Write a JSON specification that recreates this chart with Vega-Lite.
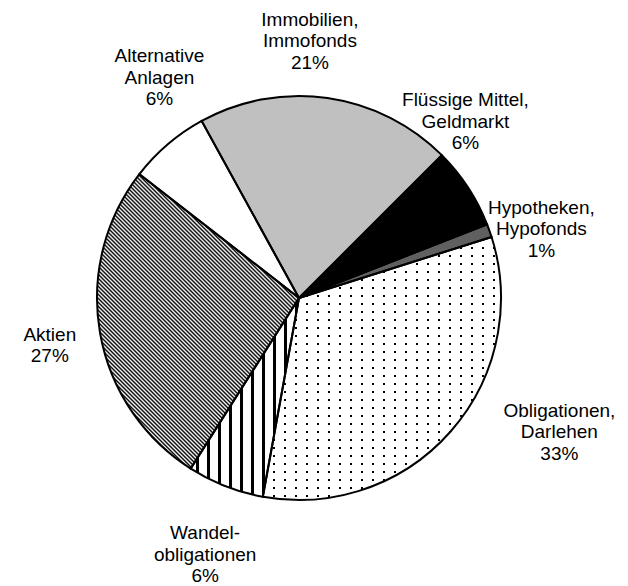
{
  "$schema": "https://vega.github.io/schema/vega-lite/v6.json",
  "autosize": "none",
  "padding": {"left": 0, "top": 10, "right": 30, "bottom": 0},
  "width": 598,
  "height": 576,
  "background": "white",
  "data": {
    "values": [
      {"k": "Immobilien", "label": "Immobilien,\nImmofonds\n21%", "v": 20.5, "o": 1},
      {"k": "Flüssige Mittel", "label": "Flüssige Mittel,\nGeldmarkt\n6%", "v": 6.56, "o": 2},
      {"k": "Hypotheken", "label": "Hypotheken,\nHypofonds\n1%", "v": 1.06, "o": 3},
      {"k": "Obligationen", "label": "Obligationen,\nDarlehen\n33%", "v": 32.75, "o": 4},
      {"k": "Wandelobligationen", "label": "Wandel-\nobligationen\n6%", "v": 6.14, "o": 5},
      {"k": "Aktien", "label": "Aktien\n27%", "v": 26.5, "o": 6},
      {"k": "Alternative Anlagen", "label": "Alternative\nAnlagen\n6%", "v": 6.5, "o": 7}
    ]
  },
  "encoding": {
    "theta": {"field": "v", "type": "quantitative", "stack": true, "scale": {"range": [-0.50265, 5.78053]}},
    "order": {"field": "o", "type": "quantitative"}
  },
  "layer": [
    {
      "mark": {"type": "arc", "radius": 202, "strokeWidth": 0},
      "encoding": {
        "fill": {
          "condition": [
            {"test": "datum.k === 'Immobilien'", "value": "#c0c0c0"},
            {"test": "datum.k === 'Flüssige Mittel'", "value": "#000000"},
            {"test": "datum.k === 'Hypotheken'", "value": "#606060"},
            {"test": "datum.k === 'Aktien'", "value": {
              "gradient": "linear", "x1": 1, "y1": 0, "x2": 0.2134, "y2": 1.1464,
              "stops": [
                {"offset": 0.00202, "color": "#000"}, {"offset": 0.00604, "color": "#fff"},
                {"offset": 0.01007, "color": "#000"}, {"offset": 0.0141, "color": "#fff"},
                {"offset": 0.01813, "color": "#000"}, {"offset": 0.02216, "color": "#fff"},
                {"offset": 0.02619, "color": "#000"}, {"offset": 0.03022, "color": "#fff"},
                {"offset": 0.03425, "color": "#000"}, {"offset": 0.03827, "color": "#fff"},
                {"offset": 0.0423, "color": "#000"}, {"offset": 0.04633, "color": "#fff"},
                {"offset": 0.05036, "color": "#000"}, {"offset": 0.05439, "color": "#fff"},
                {"offset": 0.05842, "color": "#000"}, {"offset": 0.06245, "color": "#fff"},
                {"offset": 0.06648, "color": "#000"}, {"offset": 0.0705, "color": "#fff"},
                {"offset": 0.07453, "color": "#000"}, {"offset": 0.07856, "color": "#fff"},
                {"offset": 0.08259, "color": "#000"}, {"offset": 0.08662, "color": "#fff"},
                {"offset": 0.09065, "color": "#000"}, {"offset": 0.09468, "color": "#fff"},
                {"offset": 0.09871, "color": "#000"}, {"offset": 0.10273, "color": "#fff"},
                {"offset": 0.10676, "color": "#000"}, {"offset": 0.11079, "color": "#fff"},
                {"offset": 0.11482, "color": "#000"}, {"offset": 0.11885, "color": "#fff"},
                {"offset": 0.12288, "color": "#000"}, {"offset": 0.12691, "color": "#fff"},
                {"offset": 0.13094, "color": "#000"}, {"offset": 0.13496, "color": "#fff"},
                {"offset": 0.13899, "color": "#000"}, {"offset": 0.14302, "color": "#fff"},
                {"offset": 0.14705, "color": "#000"}, {"offset": 0.15108, "color": "#fff"},
                {"offset": 0.15511, "color": "#000"}, {"offset": 0.15914, "color": "#fff"},
                {"offset": 0.16317, "color": "#000"}, {"offset": 0.16719, "color": "#fff"},
                {"offset": 0.17122, "color": "#000"}, {"offset": 0.17525, "color": "#fff"},
                {"offset": 0.17928, "color": "#000"}, {"offset": 0.18331, "color": "#fff"},
                {"offset": 0.18734, "color": "#000"}, {"offset": 0.19137, "color": "#fff"},
                {"offset": 0.1954, "color": "#000"}, {"offset": 0.19942, "color": "#fff"},
                {"offset": 0.20346, "color": "#000"}, {"offset": 0.20748, "color": "#fff"},
                {"offset": 0.21152, "color": "#000"}, {"offset": 0.21554, "color": "#fff"},
                {"offset": 0.21958, "color": "#000"}, {"offset": 0.2236, "color": "#fff"},
                {"offset": 0.22764, "color": "#000"}, {"offset": 0.23166, "color": "#fff"},
                {"offset": 0.23569, "color": "#000"}, {"offset": 0.23972, "color": "#fff"},
                {"offset": 0.24375, "color": "#000"}, {"offset": 0.24778, "color": "#fff"},
                {"offset": 0.25181, "color": "#000"}, {"offset": 0.25584, "color": "#fff"},
                {"offset": 0.25987, "color": "#000"}, {"offset": 0.2639, "color": "#fff"},
                {"offset": 0.26793, "color": "#000"}, {"offset": 0.27196, "color": "#fff"},
                {"offset": 0.27599, "color": "#000"}, {"offset": 0.28001, "color": "#fff"},
                {"offset": 0.28405, "color": "#000"}, {"offset": 0.28807, "color": "#fff"},
                {"offset": 0.2921, "color": "#000"}, {"offset": 0.29613, "color": "#fff"},
                {"offset": 0.30016, "color": "#000"}, {"offset": 0.30419, "color": "#fff"},
                {"offset": 0.30822, "color": "#000"}, {"offset": 0.31225, "color": "#fff"},
                {"offset": 0.31628, "color": "#000"}, {"offset": 0.3203, "color": "#fff"},
                {"offset": 0.32434, "color": "#000"}, {"offset": 0.32836, "color": "#fff"},
                {"offset": 0.33239, "color": "#000"}, {"offset": 0.33642, "color": "#fff"},
                {"offset": 0.34045, "color": "#000"}, {"offset": 0.34448, "color": "#fff"},
                {"offset": 0.34851, "color": "#000"}, {"offset": 0.35254, "color": "#fff"},
                {"offset": 0.35657, "color": "#000"}, {"offset": 0.3606, "color": "#fff"},
                {"offset": 0.36463, "color": "#000"}, {"offset": 0.36865, "color": "#fff"},
                {"offset": 0.37268, "color": "#000"}, {"offset": 0.37671, "color": "#fff"},
                {"offset": 0.38074, "color": "#000"}, {"offset": 0.38477, "color": "#fff"},
                {"offset": 0.3888, "color": "#000"}, {"offset": 0.39283, "color": "#fff"},
                {"offset": 0.39686, "color": "#000"}, {"offset": 0.40088, "color": "#fff"},
                {"offset": 0.40491, "color": "#000"}, {"offset": 0.40894, "color": "#fff"},
                {"offset": 0.41297, "color": "#000"}, {"offset": 0.417, "color": "#fff"},
                {"offset": 0.42103, "color": "#000"}, {"offset": 0.42506, "color": "#fff"},
                {"offset": 0.42909, "color": "#000"}, {"offset": 0.43312, "color": "#fff"},
                {"offset": 0.43715, "color": "#000"}, {"offset": 0.44117, "color": "#fff"},
                {"offset": 0.4452, "color": "#000"}, {"offset": 0.44923, "color": "#fff"},
                {"offset": 0.45326, "color": "#000"}, {"offset": 0.45729, "color": "#fff"},
                {"offset": 0.46132, "color": "#000"}, {"offset": 0.46535, "color": "#fff"},
                {"offset": 0.46938, "color": "#000"}, {"offset": 0.4734, "color": "#fff"},
                {"offset": 0.47743, "color": "#000"}, {"offset": 0.48146, "color": "#fff"},
                {"offset": 0.48549, "color": "#000"}, {"offset": 0.48952, "color": "#fff"},
                {"offset": 0.49355, "color": "#000"}, {"offset": 0.49758, "color": "#fff"},
                {"offset": 0.50161, "color": "#000"}, {"offset": 0.50564, "color": "#fff"},
                {"offset": 0.50967, "color": "#000"}, {"offset": 0.51369, "color": "#fff"},
                {"offset": 0.51772, "color": "#000"}, {"offset": 0.52175, "color": "#fff"},
                {"offset": 0.52578, "color": "#000"}, {"offset": 0.52981, "color": "#fff"},
                {"offset": 0.53384, "color": "#000"}, {"offset": 0.53787, "color": "#fff"},
                {"offset": 0.5419, "color": "#000"}, {"offset": 0.54592, "color": "#fff"},
                {"offset": 0.54995, "color": "#000"}, {"offset": 0.55398, "color": "#fff"},
                {"offset": 0.55801, "color": "#000"}, {"offset": 0.56204, "color": "#fff"},
                {"offset": 0.56607, "color": "#000"}, {"offset": 0.5701, "color": "#fff"},
                {"offset": 0.57413, "color": "#000"}, {"offset": 0.57815, "color": "#fff"},
                {"offset": 0.58218, "color": "#000"}, {"offset": 0.58621, "color": "#fff"},
                {"offset": 0.59024, "color": "#000"}, {"offset": 0.59427, "color": "#fff"},
                {"offset": 0.5983, "color": "#000"}, {"offset": 0.60233, "color": "#fff"},
                {"offset": 0.60636, "color": "#000"}, {"offset": 0.61039, "color": "#fff"},
                {"offset": 0.61442, "color": "#000"}, {"offset": 0.61844, "color": "#fff"},
                {"offset": 0.62247, "color": "#000"}, {"offset": 0.6265, "color": "#fff"},
                {"offset": 0.63053, "color": "#000"}, {"offset": 0.63456, "color": "#fff"},
                {"offset": 0.63859, "color": "#000"}, {"offset": 0.64262, "color": "#fff"},
                {"offset": 0.64665, "color": "#000"}, {"offset": 0.65067, "color": "#fff"},
                {"offset": 0.65471, "color": "#000"}, {"offset": 0.65873, "color": "#fff"},
                {"offset": 0.66277, "color": "#000"}, {"offset": 0.66679, "color": "#fff"},
                {"offset": 0.67082, "color": "#000"}, {"offset": 0.67485, "color": "#fff"},
                {"offset": 0.67888, "color": "#000"}, {"offset": 0.68291, "color": "#fff"},
                {"offset": 0.68694, "color": "#000"}, {"offset": 0.69097, "color": "#fff"},
                {"offset": 0.695, "color": "#000"}, {"offset": 0.69902, "color": "#fff"},
                {"offset": 0.70305, "color": "#000"}, {"offset": 0.70708, "color": "#fff"},
                {"offset": 0.71111, "color": "#000"}, {"offset": 0.71514, "color": "#fff"},
                {"offset": 0.71917, "color": "#000"}, {"offset": 0.7232, "color": "#fff"},
                {"offset": 0.72723, "color": "#000"}, {"offset": 0.73126, "color": "#fff"},
                {"offset": 0.73529, "color": "#000"}, {"offset": 0.73931, "color": "#fff"},
                {"offset": 0.74334, "color": "#000"}, {"offset": 0.74737, "color": "#fff"},
                {"offset": 0.7514, "color": "#000"}, {"offset": 0.75543, "color": "#fff"},
                {"offset": 0.75946, "color": "#000"}, {"offset": 0.76349, "color": "#fff"},
                {"offset": 0.76752, "color": "#000"}, {"offset": 0.77154, "color": "#fff"},
                {"offset": 0.77557, "color": "#000"}, {"offset": 0.7796, "color": "#fff"},
                {"offset": 0.78363, "color": "#000"}, {"offset": 0.78766, "color": "#fff"},
                {"offset": 0.79169, "color": "#000"}, {"offset": 0.79572, "color": "#fff"},
                {"offset": 0.79975, "color": "#000"}, {"offset": 0.80378, "color": "#fff"},
                {"offset": 0.80781, "color": "#000"}, {"offset": 0.81183, "color": "#fff"},
                {"offset": 0.81586, "color": "#000"}, {"offset": 0.81989, "color": "#fff"},
                {"offset": 0.82392, "color": "#000"}, {"offset": 0.82795, "color": "#fff"},
                {"offset": 0.83198, "color": "#000"}, {"offset": 0.83601, "color": "#fff"},
                {"offset": 0.84004, "color": "#000"}, {"offset": 0.84406, "color": "#fff"},
                {"offset": 0.84809, "color": "#000"}, {"offset": 0.85212, "color": "#fff"},
                {"offset": 0.85615, "color": "#000"}, {"offset": 0.86018, "color": "#fff"},
                {"offset": 0.86421, "color": "#000"}, {"offset": 0.86824, "color": "#fff"},
                {"offset": 0.87227, "color": "#000"}, {"offset": 0.8763, "color": "#fff"},
                {"offset": 0.88033, "color": "#000"}, {"offset": 0.88435, "color": "#fff"},
                {"offset": 0.88838, "color": "#000"}, {"offset": 0.89241, "color": "#fff"},
                {"offset": 0.89644, "color": "#000"}, {"offset": 0.90047, "color": "#fff"},
                {"offset": 0.9045, "color": "#000"}, {"offset": 0.90853, "color": "#fff"},
                {"offset": 0.91256, "color": "#000"}, {"offset": 0.91658, "color": "#fff"},
                {"offset": 0.92061, "color": "#000"}, {"offset": 0.92464, "color": "#fff"},
                {"offset": 0.92867, "color": "#000"}, {"offset": 0.9327, "color": "#fff"},
                {"offset": 0.93673, "color": "#000"}, {"offset": 0.94076, "color": "#fff"},
                {"offset": 0.94479, "color": "#000"}, {"offset": 0.94881, "color": "#fff"},
                {"offset": 0.95285, "color": "#000"}, {"offset": 0.95687, "color": "#fff"},
                {"offset": 0.9609, "color": "#000"}, {"offset": 0.96493, "color": "#fff"},
                {"offset": 0.96896, "color": "#000"}, {"offset": 0.97299, "color": "#fff"},
                {"offset": 0.97702, "color": "#000"}, {"offset": 0.98105, "color": "#fff"},
                {"offset": 0.98508, "color": "#000"}, {"offset": 0.9891, "color": "#fff"},
                {"offset": 0.99313, "color": "#000"}, {"offset": 0.99716, "color": "#fff"}
              ]
            }},
            {"test": "datum.k === 'Obligationen'", "value": {
              "gradient": "linear", "x1": 0, "y1": 0, "x2": 1, "y2": 0,
              "stops": [
                {"offset": 0.0, "color": "#fff"},
                {"offset": 0.04322, "color": "#fff"}, {"offset": 0.04322, "color": "#000"}, {"offset": 0.05162, "color": "#000"}, {"offset": 0.05162, "color": "#fff"},
                {"offset": 0.08938, "color": "#fff"}, {"offset": 0.08938, "color": "#000"}, {"offset": 0.09778, "color": "#000"}, {"offset": 0.09778, "color": "#fff"},
                {"offset": 0.13554, "color": "#fff"}, {"offset": 0.13554, "color": "#000"}, {"offset": 0.14394, "color": "#000"}, {"offset": 0.14394, "color": "#fff"},
                {"offset": 0.1817, "color": "#fff"}, {"offset": 0.1817, "color": "#000"}, {"offset": 0.1901, "color": "#000"}, {"offset": 0.1901, "color": "#fff"},
                {"offset": 0.22786, "color": "#fff"}, {"offset": 0.22786, "color": "#000"}, {"offset": 0.23626, "color": "#000"}, {"offset": 0.23626, "color": "#fff"},
                {"offset": 0.27402, "color": "#fff"}, {"offset": 0.27402, "color": "#000"}, {"offset": 0.28242, "color": "#000"}, {"offset": 0.28242, "color": "#fff"},
                {"offset": 0.32018, "color": "#fff"}, {"offset": 0.32018, "color": "#000"}, {"offset": 0.32858, "color": "#000"}, {"offset": 0.32858, "color": "#fff"},
                {"offset": 0.36634, "color": "#fff"}, {"offset": 0.36634, "color": "#000"}, {"offset": 0.37474, "color": "#000"}, {"offset": 0.37474, "color": "#fff"},
                {"offset": 0.4125, "color": "#fff"}, {"offset": 0.4125, "color": "#000"}, {"offset": 0.4209, "color": "#000"}, {"offset": 0.4209, "color": "#fff"},
                {"offset": 0.45866, "color": "#fff"}, {"offset": 0.45866, "color": "#000"}, {"offset": 0.46706, "color": "#000"}, {"offset": 0.46706, "color": "#fff"},
                {"offset": 0.50482, "color": "#fff"}, {"offset": 0.50482, "color": "#000"}, {"offset": 0.51322, "color": "#000"}, {"offset": 0.51322, "color": "#fff"},
                {"offset": 0.55098, "color": "#fff"}, {"offset": 0.55098, "color": "#000"}, {"offset": 0.55938, "color": "#000"}, {"offset": 0.55938, "color": "#fff"},
                {"offset": 0.59714, "color": "#fff"}, {"offset": 0.59714, "color": "#000"}, {"offset": 0.60554, "color": "#000"}, {"offset": 0.60554, "color": "#fff"},
                {"offset": 0.6433, "color": "#fff"}, {"offset": 0.6433, "color": "#000"}, {"offset": 0.6517, "color": "#000"}, {"offset": 0.6517, "color": "#fff"},
                {"offset": 0.68946, "color": "#fff"}, {"offset": 0.68946, "color": "#000"}, {"offset": 0.69786, "color": "#000"}, {"offset": 0.69786, "color": "#fff"},
                {"offset": 0.73562, "color": "#fff"}, {"offset": 0.73562, "color": "#000"}, {"offset": 0.74402, "color": "#000"}, {"offset": 0.74402, "color": "#fff"},
                {"offset": 0.78178, "color": "#fff"}, {"offset": 0.78178, "color": "#000"}, {"offset": 0.79018, "color": "#000"}, {"offset": 0.79018, "color": "#fff"},
                {"offset": 0.82794, "color": "#fff"}, {"offset": 0.82794, "color": "#000"}, {"offset": 0.83634, "color": "#000"}, {"offset": 0.83634, "color": "#fff"},
                {"offset": 0.8741, "color": "#fff"}, {"offset": 0.8741, "color": "#000"}, {"offset": 0.8825, "color": "#000"}, {"offset": 0.8825, "color": "#fff"},
                {"offset": 0.92026, "color": "#fff"}, {"offset": 0.92026, "color": "#000"}, {"offset": 0.92866, "color": "#000"}, {"offset": 0.92866, "color": "#fff"},
                {"offset": 0.96642, "color": "#fff"}, {"offset": 0.96642, "color": "#000"}, {"offset": 0.97482, "color": "#000"}, {"offset": 0.97482, "color": "#fff"},
                {"offset": 1.0, "color": "#fff"}
              ]
            }},
            {"test": "datum.k === 'Wandelobligationen'", "value": {
              "gradient": "linear", "x1": 0, "y1": 0, "x2": 1, "y2": 0,
              "stops": [
                {"offset": 0.0, "color": "#fff"},
                {"offset": 0.05, "color": "#fff"}, {"offset": 0.05, "color": "#000"}, {"offset": 0.0729, "color": "#000"}, {"offset": 0.0729, "color": "#fff"},
                {"offset": 0.1518, "color": "#fff"}, {"offset": 0.1518, "color": "#000"}, {"offset": 0.1748, "color": "#000"}, {"offset": 0.1748, "color": "#fff"},
                {"offset": 0.2537, "color": "#fff"}, {"offset": 0.2537, "color": "#000"}, {"offset": 0.2766, "color": "#000"}, {"offset": 0.2766, "color": "#fff"},
                {"offset": 0.3555, "color": "#fff"}, {"offset": 0.3555, "color": "#000"}, {"offset": 0.3784, "color": "#000"}, {"offset": 0.3784, "color": "#fff"},
                {"offset": 0.4573, "color": "#fff"}, {"offset": 0.4573, "color": "#000"}, {"offset": 0.4803, "color": "#000"}, {"offset": 0.4803, "color": "#fff"},
                {"offset": 0.5592, "color": "#fff"}, {"offset": 0.5592, "color": "#000"}, {"offset": 0.5821, "color": "#000"}, {"offset": 0.5821, "color": "#fff"},
                {"offset": 0.661, "color": "#fff"}, {"offset": 0.661, "color": "#000"}, {"offset": 0.6839, "color": "#000"}, {"offset": 0.6839, "color": "#fff"},
                {"offset": 0.7628, "color": "#fff"}, {"offset": 0.7628, "color": "#000"}, {"offset": 0.7858, "color": "#000"}, {"offset": 0.7858, "color": "#fff"},
                {"offset": 0.8647, "color": "#fff"}, {"offset": 0.8647, "color": "#000"}, {"offset": 0.8876, "color": "#000"}, {"offset": 0.8876, "color": "#fff"},
                {"offset": 0.9665, "color": "#fff"}, {"offset": 0.9665, "color": "#000"}, {"offset": 0.9894, "color": "#000"}, {"offset": 0.9894, "color": "#fff"},
                {"offset": 1.0, "color": "#fff"}
              ]
            }}
          ],
          "value": "#ffffff"
        }
      }
    },
    {
      "mark": {"type": "arc", "radius": 202, "strokeWidth": 0},
      "encoding": {
        "fill": {
          "condition": [
            {"test": "datum.k === 'Obligationen'", "value": {
              "gradient": "linear", "x1": 0, "y1": 0, "x2": 0, "y2": 1,
              "stops": [
                {"offset": 0.0, "color": "#fff"},
                {"offset": 0.00723, "color": "#fff"}, {"offset": 0.00723, "color": "rgba(255,255,255,0)"}, {"offset": 0.01483, "color": "rgba(255,255,255,0)"}, {"offset": 0.01483, "color": "#fff"},
                {"offset": 0.03766, "color": "#fff"}, {"offset": 0.03766, "color": "rgba(255,255,255,0)"}, {"offset": 0.04526, "color": "rgba(255,255,255,0)"}, {"offset": 0.04526, "color": "#fff"},
                {"offset": 0.06809, "color": "#fff"}, {"offset": 0.06809, "color": "rgba(255,255,255,0)"}, {"offset": 0.07569, "color": "rgba(255,255,255,0)"}, {"offset": 0.07569, "color": "#fff"},
                {"offset": 0.09852, "color": "#fff"}, {"offset": 0.09852, "color": "rgba(255,255,255,0)"}, {"offset": 0.10612, "color": "rgba(255,255,255,0)"}, {"offset": 0.10612, "color": "#fff"},
                {"offset": 0.12895, "color": "#fff"}, {"offset": 0.12895, "color": "rgba(255,255,255,0)"}, {"offset": 0.13655, "color": "rgba(255,255,255,0)"}, {"offset": 0.13655, "color": "#fff"},
                {"offset": 0.15938, "color": "#fff"}, {"offset": 0.15938, "color": "rgba(255,255,255,0)"}, {"offset": 0.16698, "color": "rgba(255,255,255,0)"}, {"offset": 0.16698, "color": "#fff"},
                {"offset": 0.18981, "color": "#fff"}, {"offset": 0.18981, "color": "rgba(255,255,255,0)"}, {"offset": 0.19741, "color": "rgba(255,255,255,0)"}, {"offset": 0.19741, "color": "#fff"},
                {"offset": 0.22024, "color": "#fff"}, {"offset": 0.22024, "color": "rgba(255,255,255,0)"}, {"offset": 0.22784, "color": "rgba(255,255,255,0)"}, {"offset": 0.22784, "color": "#fff"},
                {"offset": 0.25067, "color": "#fff"}, {"offset": 0.25067, "color": "rgba(255,255,255,0)"}, {"offset": 0.25827, "color": "rgba(255,255,255,0)"}, {"offset": 0.25827, "color": "#fff"},
                {"offset": 0.2811, "color": "#fff"}, {"offset": 0.2811, "color": "rgba(255,255,255,0)"}, {"offset": 0.2887, "color": "rgba(255,255,255,0)"}, {"offset": 0.2887, "color": "#fff"},
                {"offset": 0.31153, "color": "#fff"}, {"offset": 0.31153, "color": "rgba(255,255,255,0)"}, {"offset": 0.31913, "color": "rgba(255,255,255,0)"}, {"offset": 0.31913, "color": "#fff"},
                {"offset": 0.34196, "color": "#fff"}, {"offset": 0.34196, "color": "rgba(255,255,255,0)"}, {"offset": 0.34956, "color": "rgba(255,255,255,0)"}, {"offset": 0.34956, "color": "#fff"},
                {"offset": 0.37239, "color": "#fff"}, {"offset": 0.37239, "color": "rgba(255,255,255,0)"}, {"offset": 0.37999, "color": "rgba(255,255,255,0)"}, {"offset": 0.37999, "color": "#fff"},
                {"offset": 0.40282, "color": "#fff"}, {"offset": 0.40282, "color": "rgba(255,255,255,0)"}, {"offset": 0.41042, "color": "rgba(255,255,255,0)"}, {"offset": 0.41042, "color": "#fff"},
                {"offset": 0.43325, "color": "#fff"}, {"offset": 0.43325, "color": "rgba(255,255,255,0)"}, {"offset": 0.44085, "color": "rgba(255,255,255,0)"}, {"offset": 0.44085, "color": "#fff"},
                {"offset": 0.46368, "color": "#fff"}, {"offset": 0.46368, "color": "rgba(255,255,255,0)"}, {"offset": 0.47128, "color": "rgba(255,255,255,0)"}, {"offset": 0.47128, "color": "#fff"},
                {"offset": 0.49411, "color": "#fff"}, {"offset": 0.49411, "color": "rgba(255,255,255,0)"}, {"offset": 0.50171, "color": "rgba(255,255,255,0)"}, {"offset": 0.50171, "color": "#fff"},
                {"offset": 0.52454, "color": "#fff"}, {"offset": 0.52454, "color": "rgba(255,255,255,0)"}, {"offset": 0.53214, "color": "rgba(255,255,255,0)"}, {"offset": 0.53214, "color": "#fff"},
                {"offset": 0.55497, "color": "#fff"}, {"offset": 0.55497, "color": "rgba(255,255,255,0)"}, {"offset": 0.56257, "color": "rgba(255,255,255,0)"}, {"offset": 0.56257, "color": "#fff"},
                {"offset": 0.5854, "color": "#fff"}, {"offset": 0.5854, "color": "rgba(255,255,255,0)"}, {"offset": 0.593, "color": "rgba(255,255,255,0)"}, {"offset": 0.593, "color": "#fff"},
                {"offset": 0.61583, "color": "#fff"}, {"offset": 0.61583, "color": "rgba(255,255,255,0)"}, {"offset": 0.62343, "color": "rgba(255,255,255,0)"}, {"offset": 0.62343, "color": "#fff"},
                {"offset": 0.64626, "color": "#fff"}, {"offset": 0.64626, "color": "rgba(255,255,255,0)"}, {"offset": 0.65386, "color": "rgba(255,255,255,0)"}, {"offset": 0.65386, "color": "#fff"},
                {"offset": 0.67669, "color": "#fff"}, {"offset": 0.67669, "color": "rgba(255,255,255,0)"}, {"offset": 0.68429, "color": "rgba(255,255,255,0)"}, {"offset": 0.68429, "color": "#fff"},
                {"offset": 0.70712, "color": "#fff"}, {"offset": 0.70712, "color": "rgba(255,255,255,0)"}, {"offset": 0.71472, "color": "rgba(255,255,255,0)"}, {"offset": 0.71472, "color": "#fff"},
                {"offset": 0.73755, "color": "#fff"}, {"offset": 0.73755, "color": "rgba(255,255,255,0)"}, {"offset": 0.74515, "color": "rgba(255,255,255,0)"}, {"offset": 0.74515, "color": "#fff"},
                {"offset": 0.76798, "color": "#fff"}, {"offset": 0.76798, "color": "rgba(255,255,255,0)"}, {"offset": 0.77558, "color": "rgba(255,255,255,0)"}, {"offset": 0.77558, "color": "#fff"},
                {"offset": 0.79841, "color": "#fff"}, {"offset": 0.79841, "color": "rgba(255,255,255,0)"}, {"offset": 0.80601, "color": "rgba(255,255,255,0)"}, {"offset": 0.80601, "color": "#fff"},
                {"offset": 0.82884, "color": "#fff"}, {"offset": 0.82884, "color": "rgba(255,255,255,0)"}, {"offset": 0.83644, "color": "rgba(255,255,255,0)"}, {"offset": 0.83644, "color": "#fff"},
                {"offset": 0.85927, "color": "#fff"}, {"offset": 0.85927, "color": "rgba(255,255,255,0)"}, {"offset": 0.86687, "color": "rgba(255,255,255,0)"}, {"offset": 0.86687, "color": "#fff"},
                {"offset": 0.8897, "color": "#fff"}, {"offset": 0.8897, "color": "rgba(255,255,255,0)"}, {"offset": 0.8973, "color": "rgba(255,255,255,0)"}, {"offset": 0.8973, "color": "#fff"},
                {"offset": 0.92013, "color": "#fff"}, {"offset": 0.92013, "color": "rgba(255,255,255,0)"}, {"offset": 0.92773, "color": "rgba(255,255,255,0)"}, {"offset": 0.92773, "color": "#fff"},
                {"offset": 0.95056, "color": "#fff"}, {"offset": 0.95056, "color": "rgba(255,255,255,0)"}, {"offset": 0.95816, "color": "rgba(255,255,255,0)"}, {"offset": 0.95816, "color": "#fff"},
                {"offset": 0.98099, "color": "#fff"}, {"offset": 0.98099, "color": "rgba(255,255,255,0)"}, {"offset": 0.98859, "color": "rgba(255,255,255,0)"}, {"offset": 0.98859, "color": "#fff"},
                {"offset": 1.0, "color": "#fff"}
              ]
            }}
          ],
          "value": "transparent"
        }
      }
    },
    {
      "mark": {"type": "arc", "radius": 202, "filled": false, "stroke": "black", "strokeWidth": 2}
    },
    {
      "mark": {
        "type": "text", "radius": 255, "font": "Liberation Sans", "fontSize": 19, "lineBreak": "\n", "lineHeight": 21.5,
        "align": "center", "baseline": "middle", "color": "black",
        "dx": {"expr": "datum.k === 'Immobilien' ? -25 : datum.k === 'Alternative Anlagen' ? 26 : datum.k === 'Flüssige Mittel' ? -47 : datum.k === 'Obligationen' ? 69 : datum.k === 'Aktien' ? 2 : datum.k === 'Hypotheken' ? 2 : -1"},
        "dy": {"expr": "datum.k === 'Immobilien' ? -26 : datum.k === 'Alternative Anlagen' ? -48 : datum.k === 'Flüssige Mittel' ? -58 : datum.k === 'Obligationen' ? -56 : datum.k === 'Aktien' ? -7 : datum.k === 'Hypotheken' ? -5 : -2"}
      },
      "encoding": {
        "text": {"field": "label", "type": "nominal"}
      }
    }
  ]
}
